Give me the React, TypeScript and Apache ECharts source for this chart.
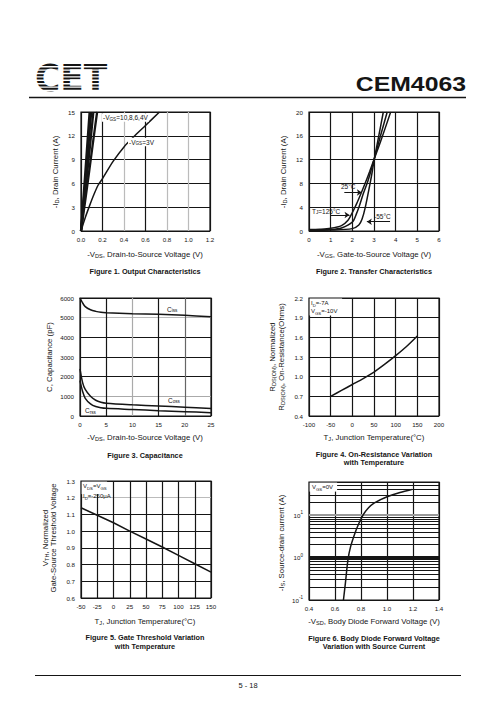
import React, { useEffect, useRef } from 'react';
import * as echarts from 'echarts';

const FONT = '"Liberation Sans", Arial, Helvetica, sans-serif';

// ---------- Figure 1 : Output Characteristics ----------
const fig1XLabels = ['0.0', '0.2', '0.4', '0.6', '0.8', '1.0', '1.2'];
const fig1YLabels = ['0', '3', '6', '9', '12', '15'];
const fig1Vgs10 = [[0, 0], [0.02, 3.6], [0.04, 7.4], [0.06, 11.2], [0.08, 15]];
const fig1Vgs8 = [[0, 0], [0.024, 3.6], [0.048, 7.3], [0.071, 11.1], [0.095, 15]];
const fig1Vgs6 = [[0, 0], [0.028, 3.5], [0.056, 7.1], [0.085, 10.9], [0.115, 15]];
const fig1Vgs4 = [[0, 0], [0.035, 3.4], [0.07, 6.9], [0.108, 10.8], [0.15, 15]];
const fig1Vgs3 = [[0, 0], [0.04, 1.7], [0.08, 3.2], [0.12, 4.6], [0.16, 5.8], [0.2, 6.6], [0.3, 8.8], [0.4, 10.6], [0.5, 12.0], [0.6, 13.3], [0.73, 15]];

// ---------- Figure 2 : Transfer Characteristics ----------
const fig2XLabels = ['0', '1', '2', '3', '4', '5', '6'];
const fig2YLabels = ['0', '4', '8', '12', '16', '20'];
const fig2T125 = [[0, 0.25], [0.5, 0.3], [1, 0.45], [1.5, 0.9], [1.8, 1.8], [2.0, 3.1], [2.2, 4.6], [2.4, 6.3], [2.6, 8.1], [2.8, 10], [3.0, 12], [3.3, 15], [3.77, 20]];
const fig2T25 = [[0, 0.15], [1, 0.25], [1.5, 0.5], [2, 1.5], [2.2, 3], [2.35, 4.5], [2.5, 6.2], [2.7, 8.2], [2.85, 10], [3.0, 12], [3.3, 16], [3.61, 20]];
const fig2Tm55 = [[0, 0.1], [1, 0.15], [2, 0.4], [2.3, 1], [2.45, 2], [2.6, 4], [2.82, 8], [2.92, 10], [3.0, 11.8], [3.2, 15.6], [3.43, 20]];
const fig2Arrows = [
  [[0.98, 2.69], [1.87, 2.69]],
  [[1.63, 6.47], [2.44, 6.47]],
  [[3.74, 1.56], [2.67, 1.56]],
];

// ---------- Figure 3 : Capacitance ----------
const fig3XLabels = ['0', '5', '10', '15', '20', '25'];
const fig3YLabels = ['0', '1000', '2000', '3000', '4000', '5000', '6000'];
const fig3Ciss = [[0, 6000], [0.5, 5750], [1, 5560], [2, 5400], [3, 5320], [4, 5270], [5, 5250], [10, 5200], [15, 5170], [20, 5120], [25, 5050]];
const fig3Coss = [[0, 2400], [0.5, 1700], [1, 1350], [2, 1000], [3, 800], [4, 700], [5, 650], [10, 570], [15, 510], [20, 450], [25, 380]];
const fig3Crss = [[0, 1800], [0.5, 1250], [1, 900], [2, 620], [3, 480], [4, 420], [5, 390], [10, 330], [15, 270], [20, 220], [25, 170]];

// ---------- Figure 4 : On-Resistance vs Temperature ----------
const fig4XLabels = ['-100', '-50', '0', '50', '100', '150', '200'];
const fig4YLabels = ['0.4', '0.7', '1.0', '1.3', '1.6', '1.9', '2.2'];
const fig4YBase = 0.4;
const fig4Rds = [[-50, 0.7], [-25, 0.79], [0, 0.88], [25, 0.97], [50, 1.07], [75, 1.19], [100, 1.32], [125, 1.46], [150, 1.62]];

// ---------- Figure 5 : Gate Threshold vs Temperature ----------
const fig5XLabels = ['-50', '-25', '0', '25', '50', '75', '100', '125', '150'];
const fig5YLabels = ['0.6', '0.7', '0.8', '0.9', '1.0', '1.1', '1.2', '1.3'];
const fig5Vth = [[-50, 1.14], [-25, 1.095], [0, 1.05], [25, 1.0], [50, 0.953], [75, 0.905], [100, 0.855], [125, 0.805], [150, 0.755]];

// ---------- Figure 6 : Body Diode Forward Voltage ----------
const fig6XLabels = ['0.4', '0.6', '0.8', '1.0', '1.2', '1.4'];
const fig6Is = [[0.665, 0.1], [0.68, 0.25], [0.7, 0.9], [0.72, 1.8], [0.75, 3.5], [0.78, 6], [0.82, 10.5], [0.86, 15], [0.9, 19], [0.95, 23], [1.0, 27], [1.1, 34], [1.19, 40]];
const fig6MinorLines = [0.2, 0.3, 0.4, 0.5, 0.6, 0.7, 0.8, 0.9, 2, 3, 4, 5, 6, 7, 8, 9, 20, 30, 40, 50];

const BLK = '#151515';
const NAME_SIZE = 7.8;
const TITLE_SIZE = 7.3;

function xAxis(idx: number, min: number, max: number, interval: number, labels: string[], colors: string[] | string = BLK) {
  return {
    gridIndex: idx, type: 'value', min, max, interval,
    axisLine: { show: false }, axisTick: { show: false },
    axisLabel: { fontSize: 6.2, color: BLK, margin: 5, fontFamily: FONT, formatter: (_v: number, i: number) => labels[i] ?? '' },
    splitLine: { show: true, lineStyle: { color: colors, width: 1.2 } },
  };
}
function yAxis(idx: number, min: number, max: number, interval: number, labels: string[], colors: string[] | string = BLK) {
  return {
    gridIndex: idx, type: 'value', min, max, interval,
    axisLine: { show: false }, axisTick: { show: false },
    axisLabel: { fontSize: 6.2, color: BLK, margin: 6, fontFamily: FONT, formatter: (_v: number, i: number) => labels[i] ?? '' },
    splitLine: { show: true, lineStyle: { color: colors, width: 1.2 } },
  };
}
function curve(idx: number, data: number[][], extra: any = {}) {
  return {
    type: 'line', xAxisIndex: idx, yAxisIndex: idx, data, symbol: 'none', showSymbol: false,
    smooth: 0.3, silent: true, z: 5, lineStyle: { color: BLK, width: 1.5 }, ...extra,
  };
}
function T(x: number, y: number, text: string, size = NAME_SIZE, o: any = {}) {
  return {
    type: 'text', x, y, z: 100, rotation: o.rot || 0, scaleX: o.sx || 1,
    style: {
      text, fontSize: size, fontFamily: o.family || FONT, fontWeight: o.bold ? 'bold' : 'normal', fill: BLK,
      align: o.align || 'center', verticalAlign: 'middle', lineHeight: size + 2,
      backgroundColor: o.bg, padding: o.bg ? [0, 1] : 0,
      rich: {
        s: { fontSize: size * 0.72, fontFamily: FONT, fill: BLK, verticalAlign: 'bottom' },
      },
    },
  };
}
function rectW(x: number, y: number, w: number, h: number) {
  return { type: 'rect', z: 99, shape: { x, y, width: w, height: h }, style: { fill: '#fff' } };
}

function buildOption(): any {
  const grids = [
    { left: 81, top: 112, width: 129, height: 119 },
    { left: 309, top: 112, width: 130, height: 119 },
    { left: 80, top: 298, width: 131, height: 118 },
    { left: 309, top: 298, width: 130, height: 118 },
    { left: 81, top: 481, width: 130, height: 117 },
    { left: 309, top: 482, width: 130, height: 118 },
  ].map((g) => ({ ...g, show: true, borderColor: BLK, borderWidth: 1.2, containLabel: false, outerBoundsMode: 'none' }));

  const xAxes = [
    xAxis(0, 0, 1.2, 0.2, fig1XLabels, [BLK, BLK, '#bbb', BLK, '#bbb', '#bbb', BLK]),
    xAxis(1, 0, 6, 1, fig2XLabels),
    xAxis(2, 0, 25, 5, fig3XLabels, [BLK, BLK, '#aaa', BLK, '#666', BLK]),
    xAxis(3, -100, 200, 50, fig4XLabels),
    xAxis(4, -50, 150, 25, fig5XLabels),
    xAxis(5, 0.4, 1.4, 0.2, fig6XLabels),
  ];
  const yAxes: any[] = [
    yAxis(0, 0, 15, 3, fig1YLabels),
    yAxis(1, 0, 20, 4, fig2YLabels),
    yAxis(2, 0, 6000, 1000, fig3YLabels, [BLK, '#aaa', BLK, BLK, BLK, '#bbb', BLK]),
    yAxis(3, 0, 1.8, 0.3, fig4YLabels),
    yAxis(4, 0.6, 1.3, 0.1, fig5YLabels, [BLK, BLK, BLK, BLK, BLK, BLK, '#bbb', BLK]),
    {
      gridIndex: 5, type: 'log', logBase: 10, min: 0.1, max: 60,
      axisLine: { show: false }, axisTick: { show: false },
      axisLabel: {
        fontSize: 6.2, color: BLK, margin: 6, fontFamily: FONT, lineHeight: 10,
        formatter: (v: number) => {
          const e = Math.log10(v);
          const r = Math.round(e);
          return Math.abs(e - r) < 1e-6 ? `10{sup|${r}}` : '';
        },
        rich: { sup: { fontSize: 4.5, fontFamily: FONT, color: BLK, verticalAlign: 'top' } },
      },
      splitLine: { show: true, lineStyle: { color: [BLK, BLK, '#999', BLK], width: 1.2 } },
    },
  ];

  const wedge = { lineStyle: { color: BLK, width: 2.3 } };
  const series: any[] = [
    curve(0, fig1Vgs10, wedge),
    curve(0, fig1Vgs8, wedge),
    curve(0, fig1Vgs6, wedge),
    curve(0, fig1Vgs4, wedge),
    curve(0, fig1Vgs3),
    curve(1, fig2T125),
    curve(1, fig2T25),
    curve(1, fig2Tm55, {
      markLine: {
        silent: true, animation: false, symbol: ['none', 'arrow'], symbolSize: 5,
        label: { show: false }, lineStyle: { color: BLK, width: 1, type: 'solid' },
        data: fig2Arrows.map(([a, b]) => [{ coord: a }, { coord: b }]),
      },
    }),
    curve(2, fig3Ciss),
    curve(2, fig3Coss),
    curve(2, fig3Crss),
    curve(3, fig4Rds.map(([x, y]) => [x, y - fig4YBase])),
    curve(4, fig5Vth, { smooth: false }),
    curve(5, fig6Is, {
      markLine: {
        silent: true, animation: false, symbol: ['none', 'none'], label: { show: false },
        lineStyle: { color: BLK, width: 1, type: 'solid' },
        data: [
          ...fig6MinorLines.map((v) => ({ yAxis: v })),
          { yAxis: 1, lineStyle: { color: BLK, width: 3, type: 'solid' } },
          { yAxis: 10, lineStyle: { color: '#999', width: 2, type: 'solid' } },
        ],
      },
    }),
  ];

  const stripes = Array.from({ length: 8 }, (_, k) => ({
    type: 'rect', z: 101, shape: { x: 30, y: 64 + k * 3.4 + 2.0, width: 82, height: 1.4 }, style: { fill: '#fff' },
  }));

  const R = Math.PI / 2;
  const graphic: any[] = [
    // header
    T(35, 77.7, 'CET', 37, { align: 'left', bold: true, family: '"DejaVu Sans", sans-serif', sx: 0.93 }),
    ...stripes,
    T(466, 84, 'CEM4063', 20, { align: 'right', bold: true, sx: 1.24 }),
    { type: 'line', z: 100, shape: { x1: 29, y1: 97.5, x2: 466, y2: 97.5 }, style: { stroke: BLK, lineWidth: 1.3 } },
    // footer
    { type: 'line', z: 100, shape: { x1: 35, y1: 675.5, x2: 461, y2: 675.5 }, style: { stroke: BLK, lineWidth: 1 } },
    T(248, 685, '5 - 18', 7.5),

    // Figure 1
    T(55, 172, '-I{s|D}, Drain Current (A)', NAME_SIZE, { rot: R }),
    T(145, 254, '-V{s|DS}, Drain-to-Source Voltage (V)'),
    T(145, 271, 'Figure 1. Output Characteristics', TITLE_SIZE, { bold: true }),
    T(102, 117.5, '-V{s|GS}=10,8,6,4V', 6.5, { align: 'left', bg: '#fff' }),
    T(128, 142, '-V{s|GS}=3V', 6.5, { align: 'left', bg: '#fff' }),

    // Figure 2
    T(283, 172, '-I{s|D}, Drain Current (A)', NAME_SIZE, { rot: R }),
    T(374, 254, '-V{s|GS}, Gate-to-Source Voltage (V)'),
    T(374, 271, 'Figure 2. Transfer Characteristics', TITLE_SIZE, { bold: true }),
    T(341, 186.5, '25°C', 6.5, { align: 'left' }),
    T(312, 211, 'T{s|J}=125°C', 6.5, { align: 'left' }),
    T(374, 216.5, '-55°C', 6.5, { align: 'left' }),

    // Figure 3
    T(49, 357, 'C, Capacitance (pF)', NAME_SIZE, { rot: R }),
    T(145, 437, '-V{s|DS}, Drain-to-Source Voltage (V)'),
    T(145, 455, 'Figure 3. Capacitance', TITLE_SIZE, { bold: true }),
    T(167, 309, 'C{s|iss}', 6.5, { align: 'left' }),
    T(168, 400, 'C{s|oss}', 6.5, { align: 'left' }),
    T(85, 410.5, 'C{s|rss}', 6.5, { align: 'left' }),

    // Figure 4
    T(272, 357, 'R{s|DS(ON)}, Normalized', NAME_SIZE, { rot: R }),
    T(281, 357, 'R{s|DS(ON)}, On-Resistance(Ohms)', NAME_SIZE, { rot: R }),
    T(374, 437, 'T{s|J}, Junction Temperature(°C)'),
    T(374, 454, 'Figure 4. On-Resistance Variation', TITLE_SIZE, { bold: true }),
    T(374, 462.5, 'with Temperature', TITLE_SIZE, { bold: true }),
    rectW(309.6, 298.6, 32.5, 17),
    T(311, 303, 'I{s|D}=-7A', 6, { align: 'left' }),
    T(311, 311, 'V{s|GS}=-10V', 6, { align: 'left' }),

    // Figure 5
    T(45, 538, 'V{s|TH}, Normalized', NAME_SIZE, { rot: R }),
    T(53.5, 538, 'Gate-Source Threshold Voltage', NAME_SIZE, { rot: R }),
    T(145, 621.5, 'T{s|J}, Junction Temperature(°C)'),
    T(145, 637.5, 'Figure 5. Gate Threshold Variation', TITLE_SIZE, { bold: true }),
    T(145, 646, 'with Temperature', TITLE_SIZE, { bold: true }),
    rectW(81.6, 481.6, 25.5, 12.5),
    T(83, 486, 'V{s|DS}=V{s|GS}', 6, { align: 'left' }),
    T(83, 496, 'I{s|D}=-250μA', 6, { align: 'left' }),

    // Figure 6
    T(281, 543, '-I{s|S}, Source-drain current (A)', NAME_SIZE, { rot: R }),
    T(374, 621.5, '-V{s|SD}, Body Diode Forward Voltage (V)'),
    T(374, 638, 'Figure 6. Body Diode Forward Voltage', TITLE_SIZE, { bold: true }),
    T(374, 646.5, 'Variation with Source Current', TITLE_SIZE, { bold: true }),
    rectW(309.6, 482.6, 27.5, 9),
    T(312, 487, 'V{s|GS}=0V', 6, { align: 'left' }),
  ];

  return {
    animation: false,
    backgroundColor: '#fff',
    textStyle: { fontFamily: FONT },
    grid: grids,
    xAxis: xAxes,
    yAxis: yAxes,
    series,
    graphic: { elements: graphic },
  };
}

export default function App() {
  const ref = useRef<HTMLDivElement>(null);
  useEffect(() => {
    const chart = echarts.init(ref.current!, null, { renderer: 'svg' });
    chart.setOption(buildOption());
    return () => chart.dispose();
  }, []);
  return (
    <div
      ref={ref}
      style={{ position: 'absolute', left: 0, top: 0, width: 496, height: 723, background: '#fff' }}
    />
  );
}
